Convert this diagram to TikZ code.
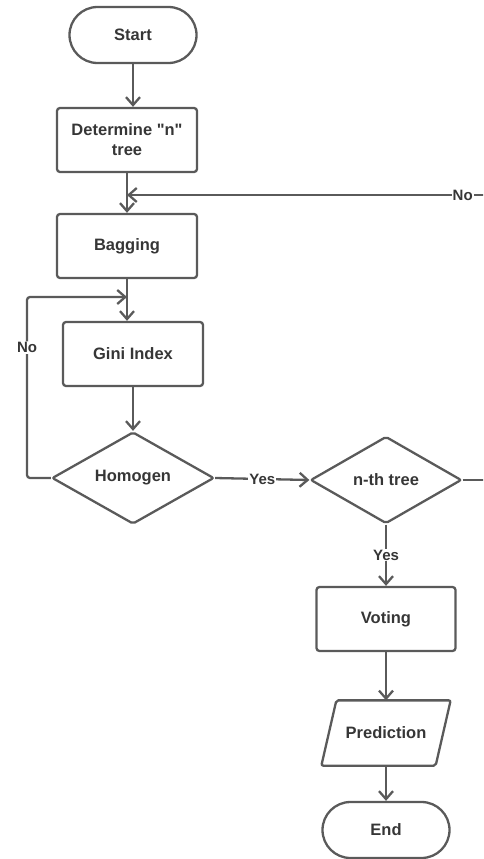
\documentclass[tikz,border=0pt]{standalone}
\usepackage{fontspec}
\setmainfont{Liberation Sans}[Ligatures=TeXOff]
\usetikzlibrary{arrows.meta, shapes.geometric}
\definecolor{edge}{HTML}{5A5A5A}
\definecolor{ink}{HTML}{363636}
\tikzset{
  base/.style={draw=edge, line width=2.3pt, text=ink, align=center, inner sep=0pt,
               font=\fontsize{16.5}{20}\selectfont\bfseries},
  term/.style={base, rounded corners=28pt, minimum width=127pt, minimum height=56pt},
  proc/.style={base, rounded corners=3pt, minimum width=140pt, minimum height=64pt},
  decide/.style={base, diamond, rounded corners=2pt},
  io/.style={base, draw=none, minimum width=112pt, minimum height=63pt},
  flow/.style={draw=edge, line width=2.3pt, -{Straight Barb[length=8pt, width=14pt]}},
  tag/.style={fill=white, text=ink, inner sep=1pt, font=\fontsize{15}{18}\selectfont\bfseries},
}

\begin{document}
\begin{tikzpicture}[x=1pt, y=-1pt]
  \useasboundingbox (0,0) rectangle (483,859);
  \clip (0,0) rectangle (483,859);
  % ---- blocks ----
  \node[term] (start) at (133,35) {Start};
  \node[proc] (ntree) at (127,140) {Determine "n"\\tree};
  \node[proc] (bagging) at (127,246) {Bagging};
  \node[proc] (gini) at (133,354) {Gini Index};
  \node[decide, minimum width=162pt, minimum height=92pt] (homogen) at (133,478) {Homogen};
  \node[decide, minimum width=151pt, minimum height=87pt] (nth) at (386,480) {n-th tree};
  \node[proc, minimum width=139pt] (voting) at (386,619) {Voting};
  \node[io] (predict) at (386,733) {Prediction};
  \draw[draw=edge, line width=2.3pt, rounded corners=2pt]
        ([xshift=7.5pt]predict.north west) -- ([xshift=7.5pt]predict.north east)
        -- ([xshift=-7.5pt]predict.south east) -- ([xshift=-7.5pt]predict.south west) -- cycle;
  \node[term] (end) at (386,830) {End};
  % ---- loop points ----
  \coordinate (joinno) at (127,195);
  \coordinate (joinleft) at (127,297);
  \coordinate (noleft) at (27,297);
  \coordinate (outright) at (500,480);
  \coordinate (outtop) at (500,195);
  % ---- connectors ----
  \draw[flow] (start.south) -- (start.south |- ntree.north);
  \draw[flow] (ntree) -- (bagging);
  \draw[flow] (bagging.south) -- (bagging.south |- gini.north);
  \draw[flow] (gini) -- (homogen);
  \draw[flow, rounded corners=3pt] (homogen.west) -| node[tag, pos=0.86]{No} (noleft)
        -- (joinleft);
  \draw[flow] (homogen.east) -- node[tag]{Yes} (nth.west);
  \draw[flow] (nth.east) -- (outright) -- (outtop) -- node[tag, pos=0.1]{No} (joinno);
  \draw[flow] (nth) -- node[tag]{Yes} (voting);
  \draw[flow] (voting) -- (predict);
  \draw[flow] (predict) -- (end);
\end{tikzpicture}
\end{document}
